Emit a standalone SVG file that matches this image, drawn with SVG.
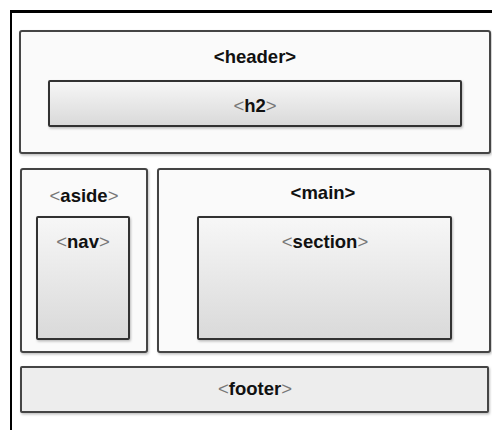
<svg xmlns="http://www.w3.org/2000/svg" width="492" height="430" viewBox="0 0 492 430">
<defs>
<linearGradient id="inner" x1="0" y1="0" x2="0" y2="1">
<stop offset="0" stop-color="#f7f7f7"/>
<stop offset="1" stop-color="#d9d9d9"/>
</linearGradient>
<filter id="sh" x="-5%" y="-5%" width="110%" height="115%">
<feDropShadow dx="1" dy="1.5" stdDeviation="1" flood-color="#000" flood-opacity="0.25"/>
</filter>
</defs>
<style>
.outer{fill:#fafafa;stroke:#444;stroke-width:2;filter:url(#sh)}
.inner{fill:url(#inner);stroke:#333;stroke-width:2;filter:url(#sh)}
.foot{fill:#ededed;stroke:#444;stroke-width:2;filter:url(#sh)}
text{font-family:"Liberation Sans",Arial,sans-serif;font-size:18.5px;font-weight:bold;fill:#111;text-anchor:middle}
.br{fill:#777;font-weight:normal}
</style>
<rect width="492" height="430" fill="#fff"/>
<g id="frame">
<line x1="10" y1="11.5" x2="492" y2="11.5" stroke="#000" stroke-width="3"/>
<line x1="11" y1="10" x2="11" y2="430" stroke="#000" stroke-width="2"/>
</g>
<g id="header">
<rect class="outer" x="20" y="31" width="470" height="122" rx="2"/>
<text x="255" y="63">&lt;header&gt;</text>
</g>
<g id="h2">
<rect class="inner" x="49" y="81" width="412" height="45" rx="1"/>
<text x="255" y="112"><tspan class="br">&lt;</tspan>h2<tspan class="br">&gt;</tspan></text>
</g>
<g id="aside">
<rect class="outer" x="21" y="169" width="126" height="183" rx="2"/>
<text x="84" y="202"><tspan class="br">&lt;</tspan>aside<tspan class="br">&gt;</tspan></text>
</g>
<g id="nav">
<rect class="inner" x="37" y="217" width="92" height="122" rx="1"/>
<text x="83" y="248"><tspan class="br">&lt;</tspan>nav<tspan class="br">&gt;</tspan></text>
</g>
<g id="main">
<rect class="outer" x="158" y="169" width="332" height="183" rx="2"/>
<text x="323" y="199">&lt;main&gt;</text>
</g>
<g id="section">
<rect class="inner" x="198" y="217" width="253" height="122" rx="1"/>
<text x="325" y="248"><tspan class="br">&lt;</tspan>section<tspan class="br">&gt;</tspan></text>
</g>
<g id="footer">
<rect class="foot" x="21" y="367" width="467" height="45" rx="1"/>
<text x="255" y="395"><tspan class="br">&lt;</tspan>footer<tspan class="br">&gt;</tspan></text>
</g>
<g id="connectors"/>
</svg>
